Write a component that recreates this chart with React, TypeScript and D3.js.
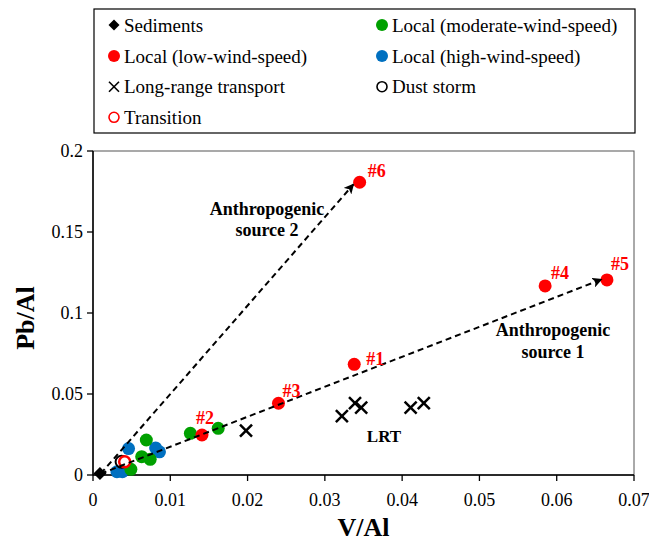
import React from "react";
import * as d3 from "d3";

// ---- data ----
const sediments: [number, number][] = [[0.0009, 0.001]];
const localLow: [number, number][] = [
  [0.0338, 0.0683],
  [0.0141, 0.0247],
  [0.024, 0.0443],
  [0.0585, 0.1167],
  [0.0665, 0.1204],
  [0.0345, 0.1807],
];
const localLowLabels = ["#1", "#2", "#3", "#4", "#5", "#6"];
const localModerate: [number, number][] = [
  [0.0126, 0.0257],
  [0.0162, 0.0288],
  [0.0069, 0.0216],
  [0.0063, 0.0113],
  [0.0074, 0.0097],
  [0.0049, 0.0035],
];
const localHigh: [number, number][] = [
  [0.0046, 0.0163],
  [0.0081, 0.0167],
  [0.0086, 0.0143],
  [0.0031, 0.002],
  [0.0038, 0.002],
];
const longRange: [number, number][] = [
  [0.0198, 0.0274],
  [0.0322, 0.0364],
  [0.0339, 0.0443],
  [0.0347, 0.0416],
  [0.0411, 0.0416],
  [0.0428, 0.0443],
];
const dustStorm: [number, number][] = [[0.0037, 0.0082]];
const transition: [number, number][] = [[0.0041, 0.0082]];

const arrowStart: [number, number] = [0.001, 0.0008];
const source1End: [number, number] = [0.0658, 0.1207];
const source2End: [number, number] = [0.0337, 0.1794];

const xTicks = [0, 0.01, 0.02, 0.03, 0.04, 0.05, 0.06, 0.07];
const yTicks = [0, 0.05, 0.1, 0.15, 0.2];

const legendItems = [
  { label: "Sediments", kind: "diamond", color: "#000" },
  { label: "Local (moderate-wind-speed)", kind: "dot", color: "#00A000" },
  { label: "Local (low-wind-speed)", kind: "dot", color: "#FF0000" },
  { label: "Local (high-wind-speed)", kind: "dot", color: "#0070C0" },
  { label: "Long-range transport", kind: "cross", color: "#000" },
  { label: "Dust storm", kind: "ring", color: "#000" },
  { label: "Transition", kind: "ring", color: "#FF0000" },
];

const FONT = "'Liberation Serif', 'Times New Roman', serif";
const RED = "#FF0000";
const GREEN = "#00A000";
const BLUE = "#0070C0";

export default function App() {
  const W = 649;
  const H = 543;
  const left = 93;
  const right = 634;
  const top = 151;
  const bottom = 475;
  const x = d3.scaleLinear().domain([0, 0.07]).range([left, right]);
  const y = d3.scaleLinear().domain([0, 0.2]).range([bottom, top]);

  const R = 6.5;
  const cross = (cx: number, cy: number, s: number, sw: number, key: any) => (
    <g key={key} stroke="#000" strokeWidth={sw}>
      <line x1={cx - s} y1={cy - s} x2={cx + s} y2={cy + s} />
      <line x1={cx - s} y1={cy + s} x2={cx + s} y2={cy - s} />
    </g>
  );
  const diamond = (cx: number, cy: number, s: number, key: any) => (
    <path key={key} d={`M${cx},${cy - s}L${cx + s},${cy}L${cx},${cy + s}L${cx - s},${cy}Z`} fill="#000" />
  );

  const labelOffsets: [number, number][] = [
    [12, 1],
    [-6, -11],
    [4, -6],
    [6, -7],
    [4, -10],
    [8, -5],
  ];

  const legendX0 = 94, legendY0 = 9, legendW = 541, legendH = 124;
  const colX = [114, 382];
  const rowY = [25, 56, 86.7, 117.3];

  return (
    <svg width={W} height={H} style={{ position: "absolute", left: 0, top: 0, background: "#fff" }} fontFamily={FONT}>
      <defs>
        <marker id="arrow" viewBox="0 0 10 10" refX="9" refY="5" markerWidth="5" markerHeight="5" orient="auto" markerUnits="strokeWidth">
          <path d="M0,0L10,5L0,10L2.5,5Z" fill="#000" />
        </marker>
      </defs>
      <rect x={0} y={0} width={W} height={H} fill="#fff" />

      {/* legend */}
      <rect x={legendX0} y={legendY0} width={legendW} height={legendH} fill="#fff" stroke="#000" strokeWidth={1.2} />
      {legendItems.map((it, i) => {
        const cx = colX[i % 2];
        const cy = rowY[Math.floor(i / 2)];
        let m;
        if (it.kind === "diamond") m = diamond(cx, cy, 5.5, "m");
        else if (it.kind === "dot") m = <circle key="m" cx={cx} cy={cy} r={6} fill={it.color} />;
        else if (it.kind === "cross") m = cross(cx, cy, 5, 1.6, "m");
        else m = <circle key="m" cx={cx} cy={cy} r={5} fill="#fff" stroke={it.color} strokeWidth={1.6} />;
        return (
          <g key={i}>
            {m}
            <text x={cx + 10} y={cy} dy="0.35em" fontSize={19} fill="#000">{it.label}</text>
          </g>
        );
      })}

      {/* frame */}
      <rect x={left} y={top} width={right - left} height={bottom - top} fill="none" stroke="#555" strokeWidth={1} />
      <line x1={left} y1={top} x2={left} y2={bottom} stroke="#000" strokeWidth={1.5} />
      <line x1={left} y1={bottom} x2={right} y2={bottom} stroke="#000" strokeWidth={1.5} />

      {/* ticks */}
      {xTicks.map((t) => (
        <g key={"x" + t}>
          <line x1={x(t)} x2={x(t)} y1={bottom} y2={bottom + 6} stroke="#000" strokeWidth={1.3} />
          <text x={x(t)} y={506} textAnchor="middle" fontSize={18}>{t === 0 ? "0" : String(t)}</text>
        </g>
      ))}
      {yTicks.map((t) => (
        <g key={"y" + t}>
          <line x1={left - 6} x2={left} y1={y(t)} y2={y(t)} stroke="#000" strokeWidth={1.3} />
          <text x={83} y={y(t)} dy="0.35em" textAnchor="end" fontSize={18}>{t === 0 ? "0" : String(t)}</text>
        </g>
      ))}

      {/* axis titles */}
      <text x={(left + right) / 2} y={536} textAnchor="middle" fontSize={26} fontWeight="bold">V/Al</text>
      <text transform={`translate(34,318) rotate(-90)`} textAnchor="middle" fontSize={26} fontWeight="bold">Pb/Al</text>

      {/* points */}
      {localHigh.map((d, i) => <circle key={"h" + i} cx={x(d[0])} cy={y(d[1])} r={R} fill={BLUE} />)}
      {localModerate.map((d, i) => <circle key={"g" + i} cx={x(d[0])} cy={y(d[1])} r={R} fill={GREEN} />)}
      {localLow.map((d, i) => <circle key={"r" + i} cx={x(d[0])} cy={y(d[1])} r={R} fill={RED} />)}
      {longRange.map((d, i) => cross(x(d[0]), y(d[1]), 6, 2.5, "c" + i))}
      {dustStorm.map((d, i) => <circle key={"d" + i} cx={x(d[0])} cy={y(d[1])} r={6} fill="#fff" stroke="#000" strokeWidth={2} />)}
      {transition.map((d, i) => <circle key={"t" + i} cx={x(d[0])} cy={y(d[1])} r={5.5} fill="#fff" stroke={RED} strokeWidth={2.5} />)}
      {sediments.map((d, i) => diamond(x(d[0]), y(d[1]), 6.5, "s" + i))}

      {/* arrows */}
      <line x1={x(arrowStart[0])} y1={y(arrowStart[1])} x2={x(source1End[0])} y2={y(source1End[1])}
        stroke="#000" strokeWidth={2} strokeDasharray="6,4" markerEnd="url(#arrow)" />
      <line x1={x(arrowStart[0])} y1={y(arrowStart[1])} x2={x(source2End[0])} y2={y(source2End[1])}
        stroke="#000" strokeWidth={2} strokeDasharray="6,4" markerEnd="url(#arrow)" />

      {/* point labels */}
      {localLow.map((d, i) => (
        <text key={"l" + i} x={x(d[0]) + labelOffsets[i][0]} y={y(d[1]) + labelOffsets[i][1]}
          fontSize={18} fontWeight="bold" fill={RED}>{localLowLabels[i]}</text>
      ))}

      {/* annotations */}
      <text x={553} y={336} textAnchor="middle" fontSize={18} fontWeight="bold">Anthropogenic</text>
      <text x={553} y={358} textAnchor="middle" fontSize={18} fontWeight="bold">source 1</text>
      <text x={267} y={215} textAnchor="middle" fontSize={18} fontWeight="bold">Anthropogenic</text>
      <text x={267} y={236} textAnchor="middle" fontSize={18} fontWeight="bold">source 2</text>
      <text x={384} y={442} textAnchor="middle" fontSize={17} fontWeight="bold">LRT</text>
    </svg>
  );
}
